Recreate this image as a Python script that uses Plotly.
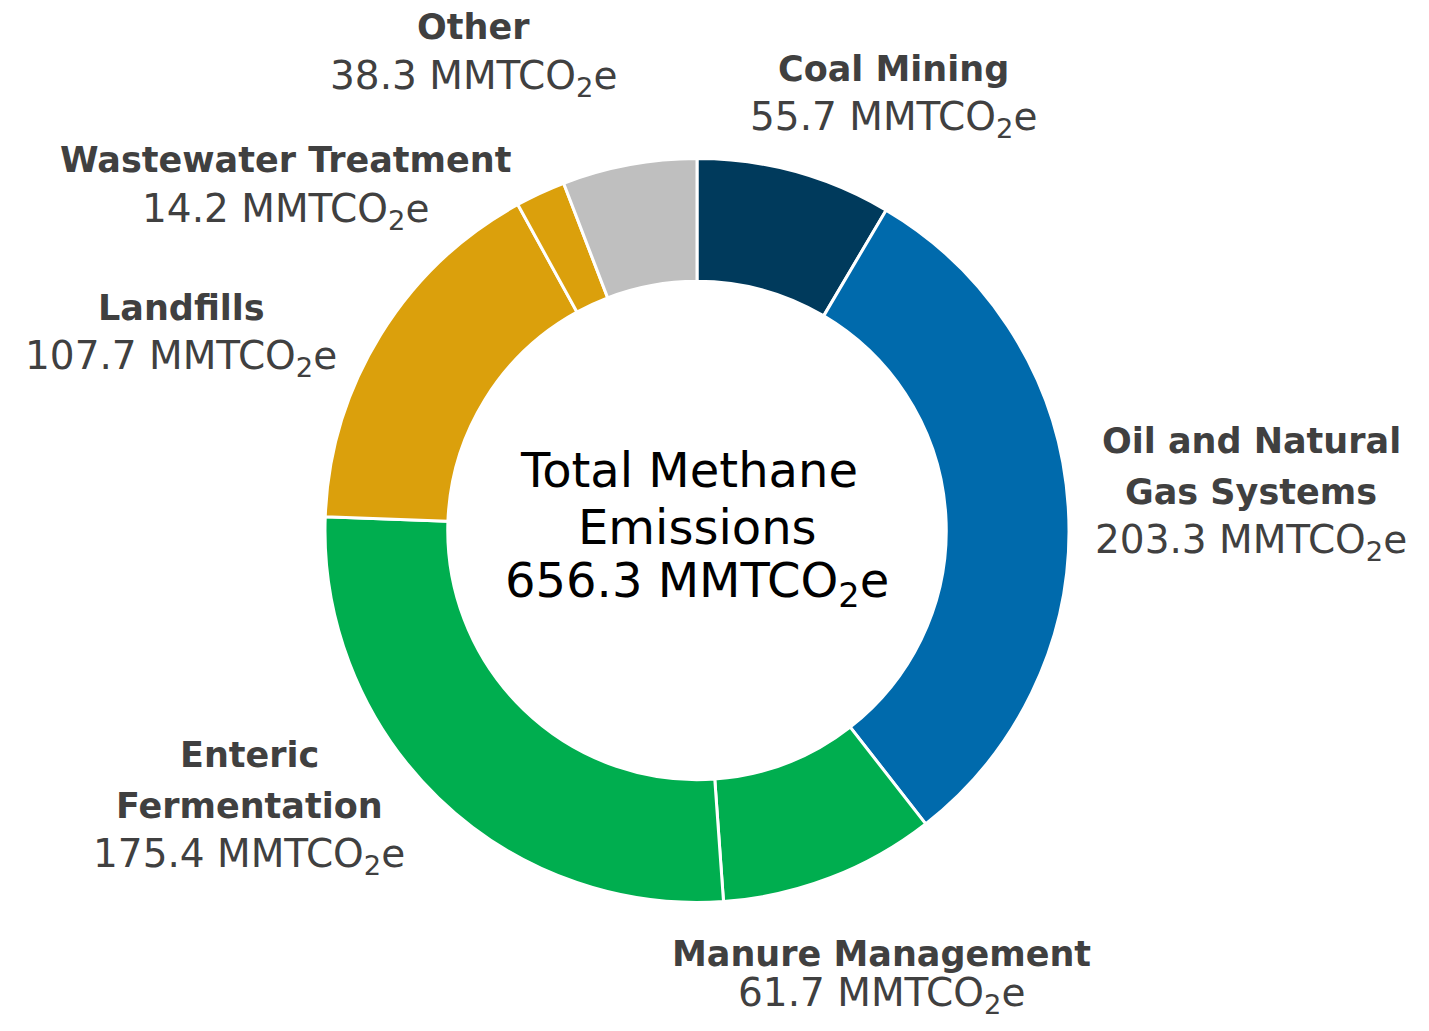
import plotly.graph_objects as go

# page body has an 8px margin: figure is drawn inside it
OFF = 8
W, H = 1429 - 2 * OFF, 1031 - 2 * OFF

sources = ["Coal Mining", "Oil and Natural<br>Gas Systems", "Manure Management",
           "Enteric<br>Fermentation", "Landfills", "Wastewater Treatment", "Other"]
values = [55.7, 203.3, 61.7, 175.4, 107.7, 14.2, 38.3]
colors = ["#003A5C", "#006AAC", "#00AE4F", "#00AE4F", "#DBA00C", "#DBA00C", "#BFBFBF"]
unit = "MMTCO<sub>2</sub>e"
total = 656.3

# label anchor (reference-screen pixel) for first line of each label
label_pos = [(893, 69), (1251, 441), (881, 954), (249, 755), (181, 308), (285, 160), (473, 27)]

cx, cy, R = 697 - OFF, 530.5 - OFF, 372

fig = go.Figure(go.Pie(
    labels=[s.replace("<br>", " ") for s in sources],
    values=values,
    marker=dict(colors=colors, line=dict(color="white", width=3)),
    hole=0.67,
    sort=False,
    direction="clockwise",
    rotation=0,
    textinfo="none",
    hoverinfo="label+value",
    domain=dict(x=[(cx - R) / W, (cx + R) / W], y=[(H - cy - R) / H, (H - cy + R) / H]),
    showlegend=False,
))

FONT = "DejaVu Sans"
ann = []
def add(text, px, py, size, color, bold=False):
    ann.append(dict(
        text=f"<b>{text}</b>" if bold else text,
        x=(px - OFF) / W, y=1 - (py - OFF) / H, xref="paper", yref="paper",
        xanchor="center", yanchor="middle", showarrow=False,
        font=dict(family=FONT, size=size, color=color),
    ))

LS = 50.5
for name, val, (px, py) in zip(sources, values, label_pos):
    lines = name.split("<br>")
    for i, ln in enumerate(lines):
        add(ln, px, py + i * LS, 35, "#404040", bold=True)
    add(f"{val:.1f} {unit}", px, min(py + len(lines) * LS, 995), 39, "#404040")

center_lines = ["Total Methane", "Emissions", f"{total:.1f} {unit}"]
for i, (t, px) in enumerate(zip(center_lines, [689, 697, 697])):
    add(t, px, 470 + i * 56.5, 48, "#000000")

fig.update_layout(
    width=W, height=H,
    margin=dict(l=0, r=0, t=0, b=0),
    paper_bgcolor="white", plot_bgcolor="white",
    annotations=ann,
)

fig.write_html("out.html")
